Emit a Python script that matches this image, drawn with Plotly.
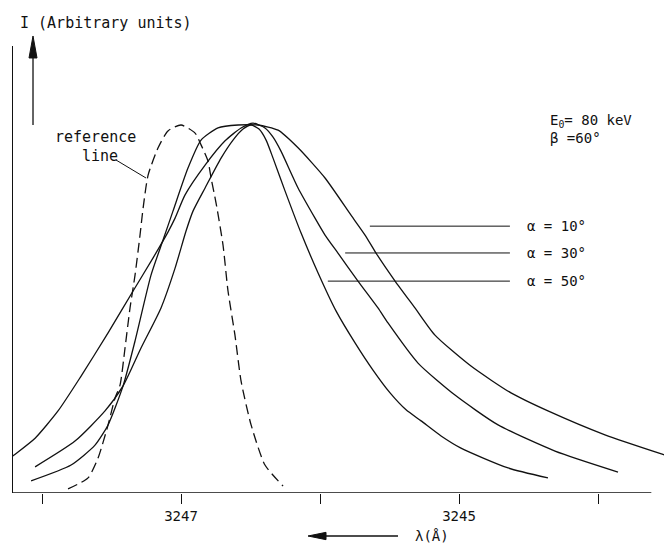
import plotly.graph_objects as go

# ---- data (wavelength in Angstrom, intensity normalised) ----
ref_wl = [3247.813, 3247.669, 3247.597, 3247.525, 3247.475, 3247.439, 3247.403, 3247.367,
          3247.331, 3247.295, 3247.273, 3247.237, 3247.165, 3247.094, 3247.000, 3246.899,
          3246.856, 3246.806, 3246.784, 3246.748, 3246.698, 3246.662, 3246.612, 3246.568,
          3246.496, 3246.396, 3246.266]
ref_I = [0.011, 0.041, 0.095, 0.185, 0.258, 0.293, 0.394, 0.503, 0.592, 0.701, 0.774, 0.864,
         0.938, 0.984, 1.000, 0.978, 0.946, 0.902, 0.856, 0.788, 0.674, 0.549, 0.429, 0.304,
         0.185, 0.076, 0.019]

a10_wl = [3248.079, 3247.791, 3247.619, 3247.525, 3247.417, 3247.331, 3247.216, 3247.129,
          3247.058, 3246.950, 3246.856, 3246.734, 3246.590, 3246.446, 3246.302, 3246.158,
          3245.964, 3245.777, 3245.676, 3245.597, 3245.460, 3245.317, 3245.173, 3244.914,
          3244.626, 3244.360, 3243.950, 3243.518, 3243.410, 3243.281]
a10_I = [0.033, 0.076, 0.130, 0.185, 0.291, 0.413, 0.592, 0.688, 0.766, 0.883, 0.959, 0.992,
         1.000, 1.000, 0.986, 0.938, 0.856, 0.755, 0.701, 0.652, 0.576, 0.503, 0.429, 0.345,
         0.272, 0.223, 0.158, 0.103, 0.090, 0.076]

a30_wl = [3248.245, 3248.209, 3248.050, 3247.885, 3247.727, 3247.525, 3247.345, 3247.201,
          3247.094, 3247.043, 3246.971, 3246.827, 3246.683, 3246.568, 3246.482, 3246.396,
          3246.338, 3246.281, 3246.158, 3246.036, 3245.964, 3245.871, 3245.727, 3245.583,
          3245.511, 3245.295, 3245.029, 3244.719, 3244.309, 3243.856]
a30_I = [0.090, 0.101, 0.149, 0.223, 0.313, 0.435, 0.549, 0.639, 0.709, 0.747, 0.810, 0.891,
         0.957, 0.992, 1.005, 0.992, 0.967, 0.929, 0.829, 0.747, 0.701, 0.652, 0.576, 0.503,
         0.462, 0.353, 0.266, 0.185, 0.114, 0.057]

a50_wl = [3248.050, 3247.763, 3247.547, 3247.417, 3247.288, 3247.144, 3247.043, 3246.964,
          3246.914, 3246.827, 3246.712, 3246.626, 3246.554, 3246.496, 3246.439, 3246.388,
          3246.338, 3246.252, 3246.137, 3246.014, 3245.885, 3245.748, 3245.619, 3245.496,
          3245.381, 3245.273, 3245.129, 3244.986, 3244.647, 3244.360]
a50_I = [0.071, 0.141, 0.223, 0.291, 0.394, 0.503, 0.611, 0.712, 0.766, 0.829, 0.910, 0.959,
         0.989, 1.000, 0.989, 0.959, 0.910, 0.821, 0.707, 0.598, 0.495, 0.408, 0.334, 0.272,
         0.226, 0.196, 0.155, 0.122, 0.068, 0.041]

label_tick_vals = [3247, 3245]
label_tick_text = ["3247", "3245"]
plain_tick_vals = [3248, 3246, 3244]

X_RANGE = [3248.209, 3243.410]
Y_RANGE = [0, 1.2147]
INK = "#111111"
FONT = "DejaVu Sans Mono"

fig = go.Figure()
fig.add_trace(go.Scatter(x=ref_wl, y=ref_I, mode="lines",
                         line=dict(color=INK, width=1.3, dash="10px,5px", shape="spline", smoothing=0.6),
                         name="reference line", showlegend=False))
for wl, inten, nm in [(a10_wl, a10_I, "α = 10°"), (a30_wl, a30_I, "α = 30°"), (a50_wl, a50_I, "α = 50°")]:
    fig.add_trace(go.Scatter(x=wl, y=inten, mode="lines",
                             line=dict(color=INK, width=1.3, shape="spline", smoothing=0.6),
                             name=nm, showlegend=False))

shapes = [
    # x axis baseline (ends before the right edge)
    dict(type="line", xref="paper", yref="y", x0=0, x1=0.957, y0=0, y1=0,
         line=dict(color=INK, width=1.4)),
    # alpha leader lines
    dict(type="line", xref="paper", yref="paper", x0=0.535, x1=0.745, y0=0.597, y1=0.597,
         line=dict(color=INK, width=1)),
    dict(type="line", xref="paper", yref="paper", x0=0.498, x1=0.745, y0=0.537, y1=0.537,
         line=dict(color=INK, width=1)),
    dict(type="line", xref="paper", yref="paper", x0=0.472, x1=0.745, y0=0.474, y1=0.474,
         line=dict(color=INK, width=1)),
    # reference line leader
    dict(type="line", xref="paper", yref="paper", x0=0.1544, x1=0.1994, y0=0.745, y1=0.7047,
         line=dict(color=INK, width=1)),
    # intensity arrow (shaft + head)
    dict(type="line", xref="paper", yref="paper", x0=0.0300, x1=0.0300, y0=0.8233, y1=0.975,
         line=dict(color=INK, width=1.3)),
    dict(type="path", xref="paper", yref="paper",
         path="M 0.0300 1.0224 L 0.0240 0.9732 L 0.0360 0.9732 Z",
         fillcolor=INK, line=dict(color=INK, width=1)),
    # wavelength arrow (shaft + head)
    dict(type="line", xref="paper", yref="paper", x0=0.462, x1=0.5772, y0=-0.0962, y1=-0.0962,
         line=dict(color=INK, width=1.3)),
    dict(type="path", xref="paper", yref="paper",
         path="M 0.4423 -0.0962 L 0.4693 -0.0880 L 0.4693 -0.1044 Z",
         fillcolor=INK, line=dict(color=INK, width=1)),
]

tf = dict(family=FONT, size=15, color=INK)
tf14 = dict(family=FONT, size=14, color=INK)
annotations = [
    dict(text="I (Arbitrary units)", xref="paper", yref="paper", x=0.0075, y=1.0515,
         xanchor="left", yanchor="middle", showarrow=False, font=tf),
    dict(text="E<sub>0</sub>= 80 keV", xref="paper", yref="paper", x=0.802, y=0.832,
         xanchor="left", yanchor="middle", showarrow=False, font=tf14),
    dict(text="β =60°", xref="paper", yref="paper", x=0.802, y=0.794,
         xanchor="left", yanchor="middle", showarrow=False, font=tf14),
    dict(text="α = 10°", xref="paper", yref="paper", x=0.768, y=0.597,
         xanchor="left", yanchor="middle", showarrow=False, font=tf14),
    dict(text="α = 30°", xref="paper", yref="paper", x=0.768, y=0.537,
         xanchor="left", yanchor="middle", showarrow=False, font=tf14),
    dict(text="α = 50°", xref="paper", yref="paper", x=0.768, y=0.474,
         xanchor="left", yanchor="middle", showarrow=False, font=tf14),
    dict(text="reference", xref="paper", yref="paper", x=0.060, y=0.796,
         xanchor="left", yanchor="middle", showarrow=False, font=tf),
    dict(text="line", xref="paper", yref="paper", x=0.100, y=0.754,
         xanchor="left", yanchor="middle", showarrow=False, font=tf),
    dict(text="λ(Å)", xref="paper", yref="paper", x=0.600, y=-0.0962,
         xanchor="left", yanchor="middle", showarrow=False, font=tf14),
]

fig.update_layout(
    width=672, height=543,
    margin=dict(l=5, r=0, t=38, b=58),
    paper_bgcolor="white", plot_bgcolor="white",
    shapes=shapes, annotations=annotations,
    xaxis=dict(range=X_RANGE, showgrid=False, zeroline=False, showline=False,
               tickmode="array", tickvals=label_tick_vals, ticktext=label_tick_text,
               ticks="outside", ticklen=10, tickwidth=1.3, tickcolor=INK,
               tickfont=dict(family=FONT, size=14, color=INK),
               minor=dict(tickmode="array", tickvals=plain_tick_vals, ticks="outside",
                          ticklen=10, tickwidth=1.3, tickcolor=INK, showgrid=False)),
    yaxis=dict(range=Y_RANGE, showgrid=False, zeroline=False, showline=True,
               linecolor=INK, linewidth=1.4, showticklabels=False, ticks=""),
)

fig.write_html("out.html")
